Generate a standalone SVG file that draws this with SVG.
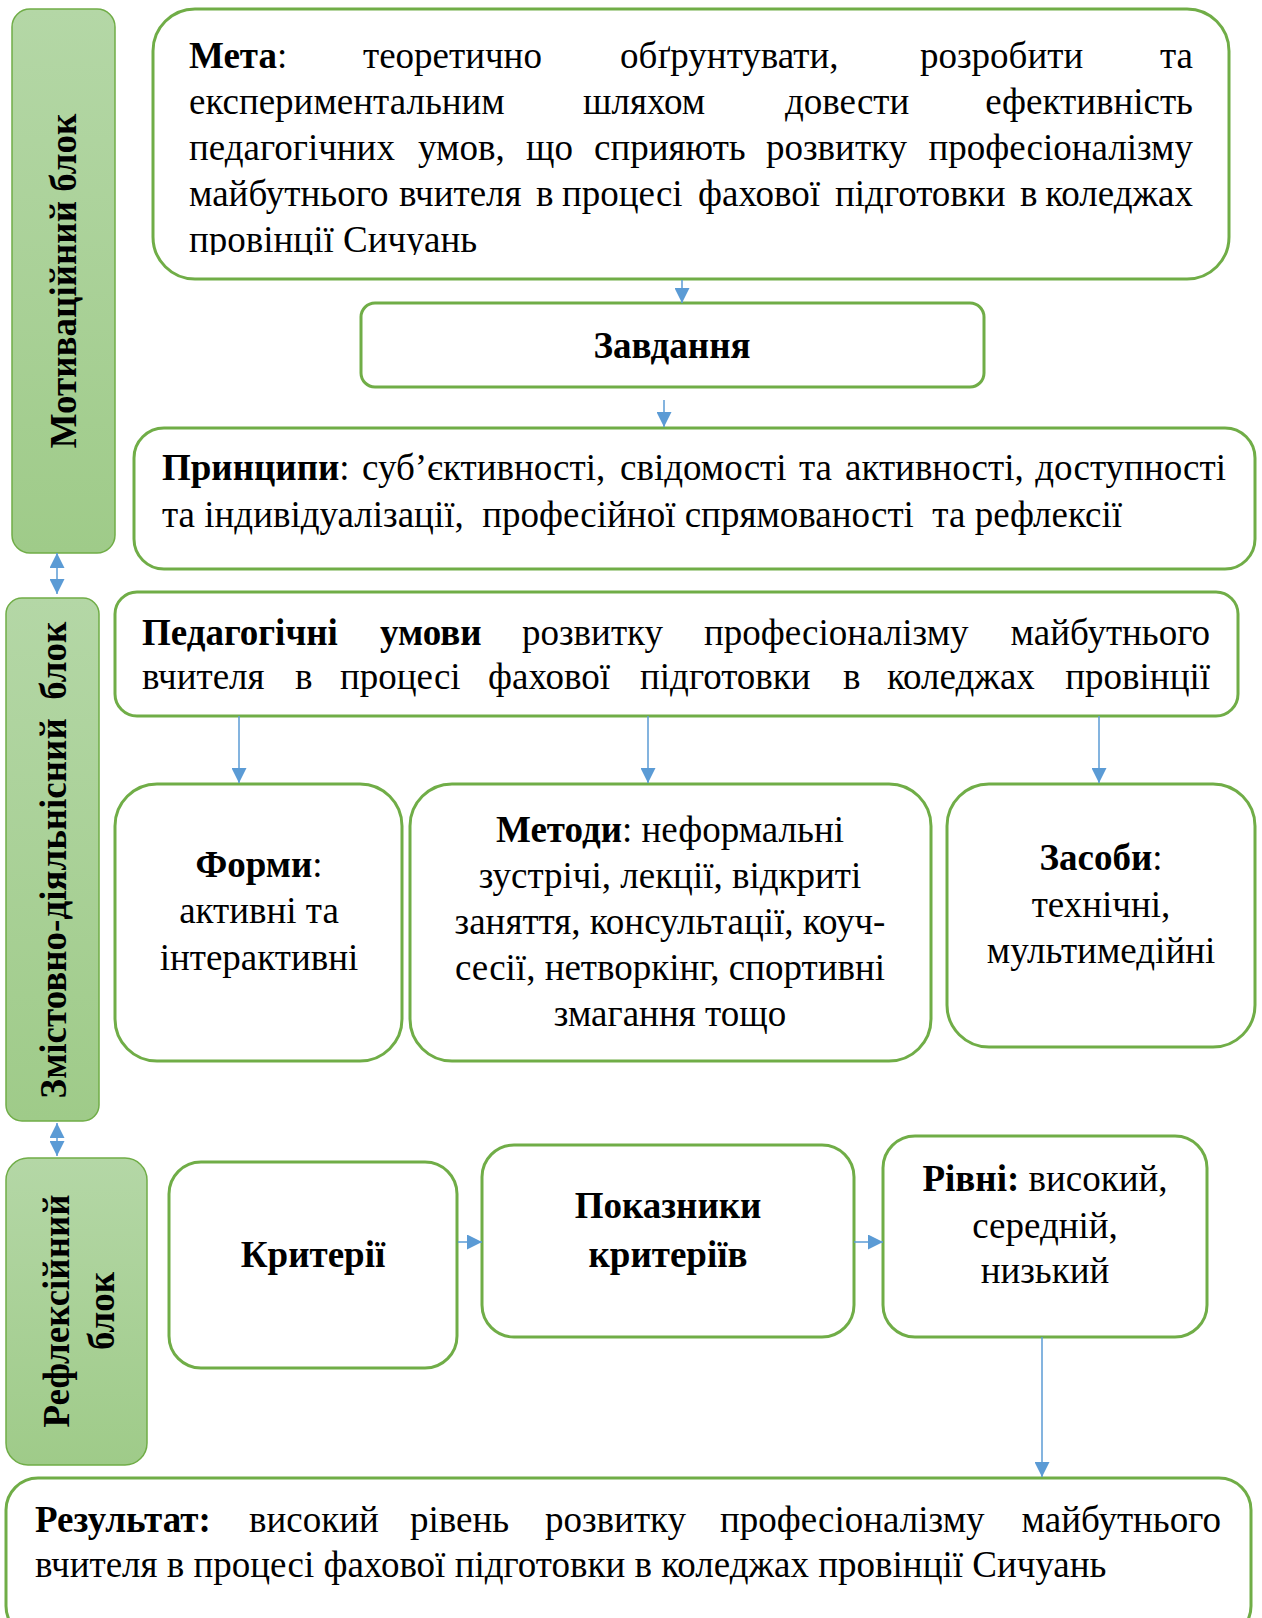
<svg xmlns="http://www.w3.org/2000/svg" width="1262" height="1618" viewBox="0 0 1262 1618">
<defs>
<linearGradient id="sideFill" x1="0" y1="0" x2="0" y2="1">
<stop offset="0" stop-color="#B4D7A6"/>
<stop offset="1" stop-color="#9FCB89"/>
</linearGradient>
<marker id="ah" viewBox="0 0 10 10" refX="10" refY="5" markerWidth="15" markerHeight="15" markerUnits="userSpaceOnUse" orient="auto-start-reverse">
<path d="M0,0 L10,5 L0,10 z" fill="#5B9BD5"/>
</marker>
<clipPath id="metaClip"><rect x="153" y="9" width="1076" height="246"/></clipPath>
<style>
.box{fill:#fff;stroke:#70AD47;stroke-width:3}
.side{fill:url(#sideFill);stroke:#70AD47;stroke-width:1.5}
.t{font-family:"Liberation Serif","Times New Roman",serif;font-size:37px;fill:#000}
.b{font-weight:bold}
.c{text-anchor:middle}
.e{text-anchor:end}
.cn{fill:none;stroke:#5B9BD5;stroke-width:1.5}
</style>
</defs>
<rect width="1262" height="1618" fill="#fff"/>

<g id="motiv-block">
<rect class="side" x="12" y="9" width="103" height="544" rx="18"/>
<text class="t b c" transform="translate(75.5,281) rotate(-90)">Мотиваційний блок</text>
</g>

<g id="meta">
<rect class="box" x="153" y="9" width="1076" height="270" rx="42"/>
<g clip-path="url(#metaClip)">
<text class="t" y="68"><tspan x="189" class="b">Мета</tspan><tspan>:</tspan><tspan x="363">теоретично</tspan><tspan x="620">обґрунтувати,</tspan><tspan x="920">розробити</tspan></text>
<text class="t e" x="1193" y="68">та</text>
<text class="t" y="114"><tspan x="189">експериментальним</tspan><tspan x="583">шляхом</tspan><tspan x="785">довести</tspan></text>
<text class="t e" x="1193" y="114">ефективність</text>
<text class="t" y="160"><tspan x="189">педагогічних</tspan><tspan x="418">умов,</tspan><tspan x="526">що</tspan><tspan x="594">сприяють</tspan><tspan x="766">розвитку</tspan></text>
<text class="t e" x="1193" y="160">професіоналізму</text>
<text class="t" y="206"><tspan x="189">майбутнього</tspan><tspan x="399">вчителя</tspan><tspan x="536">в</tspan><tspan x="562">процесі</tspan><tspan x="698">фахової</tspan><tspan x="835">підготовки</tspan><tspan x="1020">в</tspan></text>
<text class="t e" x="1193" y="206">коледжах</text>
<text class="t" x="189" y="252">провінції Сичуань</text>
</g>
</g>

<g id="zavdannia">
<rect class="box" x="361" y="303" width="623" height="84" rx="14"/>
<text class="t b c" x="672" y="358">Завдання</text>
</g>

<g id="pryntsypy">
<rect class="box" x="134" y="428" width="1121" height="141" rx="30"/>
<text class="t" y="480"><tspan x="162" class="b">Принципи</tspan><tspan>:</tspan><tspan x="362">суб’єктивності,</tspan><tspan x="620">свідомості</tspan><tspan x="799">та</tspan><tspan x="845">активності,</tspan></text>
<text class="t e" x="1226" y="480">доступності</text>
<text class="t" x="162" y="527" xml:space="preserve">та індивідуалізації,  професійної спрямованості  та рефлексії</text>
</g>

<g id="content-block">
<rect class="side" x="6" y="598" width="93" height="523" rx="16"/>
<text class="t b c" transform="translate(66,860) rotate(-90)" xml:space="preserve">Змістовно-діяльнісний  блок</text>
</g>

<g id="ped-umovy">
<rect class="box" x="115" y="592" width="1123" height="124" rx="22"/>
<text class="t" y="645"><tspan x="142" class="b">Педагогічні</tspan><tspan x="380" class="b">умови</tspan><tspan x="522">розвитку</tspan><tspan x="704">професіоналізму</tspan></text>
<text class="t e" x="1210" y="645">майбутнього</text>
<text class="t" y="689"><tspan x="142">вчителя</tspan><tspan x="295">в</tspan><tspan x="340">процесі</tspan><tspan x="488">фахової</tspan><tspan x="640">підготовки</tspan><tspan x="843">в</tspan><tspan x="887">коледжах</tspan></text>
<text class="t e" x="1210" y="689">провінції</text>
</g>

<g id="formy">
<rect class="box" x="115" y="784" width="287" height="277" rx="42"/>
<text class="t c" x="259" y="877"><tspan class="b">Форми</tspan>:</text>
<text class="t c" x="259" y="923">активні та</text>
<text class="t c" x="259" y="970">інтерактивні</text>
</g>

<g id="metody">
<rect class="box" x="410" y="784" width="521" height="277" rx="42"/>
<text class="t c" x="670" y="842"><tspan class="b">Методи</tspan>: неформальні</text>
<text class="t c" x="670" y="888">зустрічі, лекції, відкриті</text>
<text class="t c" x="670" y="934">заняття, консультації, коуч-</text>
<text class="t c" x="670" y="980">сесії, нетворкінг, спортивні</text>
<text class="t c" x="670" y="1026">змагання тощо</text>
</g>

<g id="zasoby">
<rect class="box" x="947" y="784" width="308" height="263" rx="42"/>
<text class="t c" x="1101" y="870"><tspan class="b">Засоби</tspan>:</text>
<text class="t c" x="1101" y="917">технічні,</text>
<text class="t c" x="1101" y="963">мультимедійні</text>
</g>

<g id="reflex-block">
<rect class="side" x="6" y="1158" width="141" height="307" rx="22"/>
<text class="t b c" transform="translate(69,1311) rotate(-90)">Рефлексійний</text>
<text class="t b c" transform="translate(114,1311) rotate(-90)">блок</text>
</g>

<g id="kryterii">
<rect class="box" x="169" y="1162" width="288" height="206" rx="32"/>
<text class="t b c" x="313" y="1267">Критерії</text>
</g>

<g id="pokaznyky">
<rect class="box" x="482" y="1145" width="372" height="192" rx="32"/>
<text class="t b c" x="668" y="1218">Показники</text>
<text class="t b c" x="668" y="1267">критеріїв</text>
</g>

<g id="rivni">
<rect class="box" x="883" y="1136" width="324" height="201" rx="32"/>
<text class="t c" x="1045" y="1191"><tspan class="b">Рівні:</tspan> високий,</text>
<text class="t c" x="1045" y="1238">середній,</text>
<text class="t c" x="1045" y="1283">низький</text>
</g>

<g id="rezultat">
<rect class="box" x="6" y="1478" width="1245" height="160" rx="32"/>
<text class="t" y="1532"><tspan x="35" class="b">Результат:</tspan><tspan x="249">високий</tspan><tspan x="410">рівень</tspan><tspan x="545">розвитку</tspan><tspan x="720">професіоналізму</tspan></text>
<text class="t e" x="1221" y="1532">майбутнього</text>
<text class="t" x="35" y="1577">вчителя в процесі фахової підготовки в коледжах провінції Сичуань</text>
</g>

<g id="connectors">
<line class="cn" x1="682" y1="280" x2="682" y2="303" marker-end="url(#ah)"/>
<line class="cn" x1="664" y1="400" x2="664" y2="427" marker-end="url(#ah)"/>
<line class="cn" x1="57" y1="553" x2="57" y2="594" marker-start="url(#ah)" marker-end="url(#ah)"/>
<line class="cn" x1="239" y1="716" x2="239" y2="783" marker-end="url(#ah)"/>
<line class="cn" x1="648" y1="716" x2="648" y2="783" marker-end="url(#ah)"/>
<line class="cn" x1="1099" y1="716" x2="1099" y2="783" marker-end="url(#ah)"/>
<line class="cn" x1="57" y1="1123" x2="57" y2="1156" marker-start="url(#ah)" marker-end="url(#ah)"/>
<line class="cn" x1="458" y1="1242" x2="482" y2="1242" marker-end="url(#ah)"/>
<line class="cn" x1="854" y1="1242" x2="883" y2="1242" marker-end="url(#ah)"/>
<line class="cn" x1="1042" y1="1337" x2="1042" y2="1477" marker-end="url(#ah)"/>
</g>
</svg>
